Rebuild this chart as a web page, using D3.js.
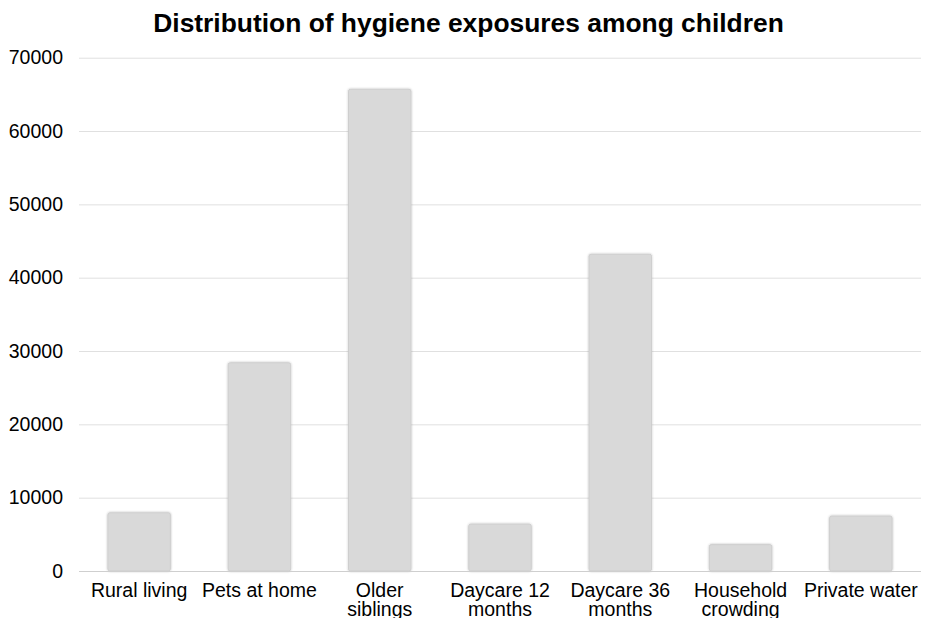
<!DOCTYPE html>
<html>
<head>
<meta charset="utf-8">
<script src="https://cdn.jsdelivr.net/npm/d3@7"></script>
<style>
  html, body { margin: 0; padding: 0; background: #fff; }
  svg { display: block; font-family: "Liberation Sans", Arial, Helvetica, sans-serif; }
</style>
</head>
<body>
<svg id="chart" width="925" height="618"></svg>
<script>
// Hygiene exposure counts by category
const categories = ["Rural living", "Pets at home", "Older siblings", "Daycare 12 months",
                    "Daycare 36 months", "Household crowding", "Private water"];
const labelLines = [["Rural living"], ["Pets at home"], ["Older", "siblings"], ["Daycare 12", "months"],
                    ["Daycare 36", "months"], ["Household", "crowding"], ["Private water"]];
const counts = [7950, 28400, 65700, 6400, 43200, 3600, 7500];
const yTicks = [0, 10000, 20000, 30000, 40000, 50000, 60000, 70000];
const title = "Distribution of hygiene exposures among children";

const svg = d3.select("#chart");
const plot = { left: 79, right: 921, top: 57.7, bottom: 571 };

const x = d3.scaleBand()
  .domain(categories)
  .range([plot.left, plot.right])
  .paddingInner(0.48)
  .paddingOuter(0.24);

const y = d3.scaleLinear()
  .domain([0, 70000])
  .range([plot.bottom, plot.top]);

// soft shadow around bars
const defs = svg.append("defs");
const f = defs.append("filter").attr("id", "barShadow")
  .attr("x", "-10%").attr("y", "-10%").attr("width", "120%").attr("height", "120%");
f.append("feDropShadow").attr("dx", 0).attr("dy", 0).attr("stdDeviation", 1.1)
  .attr("flood-color", "#000").attr("flood-opacity", 0.28);

// title
svg.append("text")
  .attr("x", 468.5).attr("y", 32)
  .attr("text-anchor", "middle")
  .attr("font-size", 26.4).attr("font-weight", "bold")
  .attr("fill", "#000")
  .text(title);

// horizontal gridlines + y labels
const yAxis = d3.axisLeft(y).tickValues(yTicks).tickFormat(d3.format("d"))
  .tickSize(-(plot.right - plot.left)).tickPadding(16);
const gy = svg.append("g").attr("transform", `translate(${plot.left},0)`).call(yAxis);
gy.select(".domain").remove();
gy.selectAll(".tick line")
  .attr("stroke", d => d === 0 ? "#cfcfcf" : "#e0e0e0")
  .attr("stroke-width", 1);
gy.selectAll(".tick text")
  .attr("font-size", 19.5).attr("fill", "#000")
  .attr("font-family", "'Liberation Sans', Arial, Helvetica, sans-serif");

// bars
svg.append("g").selectAll("rect")
  .data(counts)
  .join("rect")
  .attr("x", (d, i) => x(categories[i]))
  .attr("y", d => y(d))
  .attr("width", x.bandwidth())
  .attr("height", d => y(0) - y(d))
  .attr("rx", 2)
  .attr("fill", "#d9d9d9")
  .attr("stroke", "#cacaca")
  .attr("stroke-width", 0.8)
  .attr("filter", "url(#barShadow)");

// redraw baseline on top of bars
svg.append("line")
  .attr("x1", plot.left).attr("x2", plot.right)
  .attr("y1", y(0) + 0.5).attr("y2", y(0) + 0.5)
  .attr("stroke", "#cfcfcf").attr("stroke-width", 1);

// category labels, wrapped onto two lines where needed
const xAxis = d3.axisBottom(x).tickSize(0).tickFormat("");
const gx = svg.append("g").attr("transform", `translate(0,${plot.bottom})`).call(xAxis);
gx.select(".domain").remove();
gx.selectAll(".tick").each(function(d, i) {
  const t = d3.select(this).append("text")
    .attr("text-anchor", "middle")
    .attr("font-size", 19.5)
    .attr("fill", "#000")
    .attr("font-family", "'Liberation Sans', Arial, Helvetica, sans-serif");
  labelLines[i].forEach((line, k) => {
    t.append("tspan").attr("x", 0).attr("y", 25.5 + k * 19.5).text(line);
  });
});
</script>
</body>
</html>
